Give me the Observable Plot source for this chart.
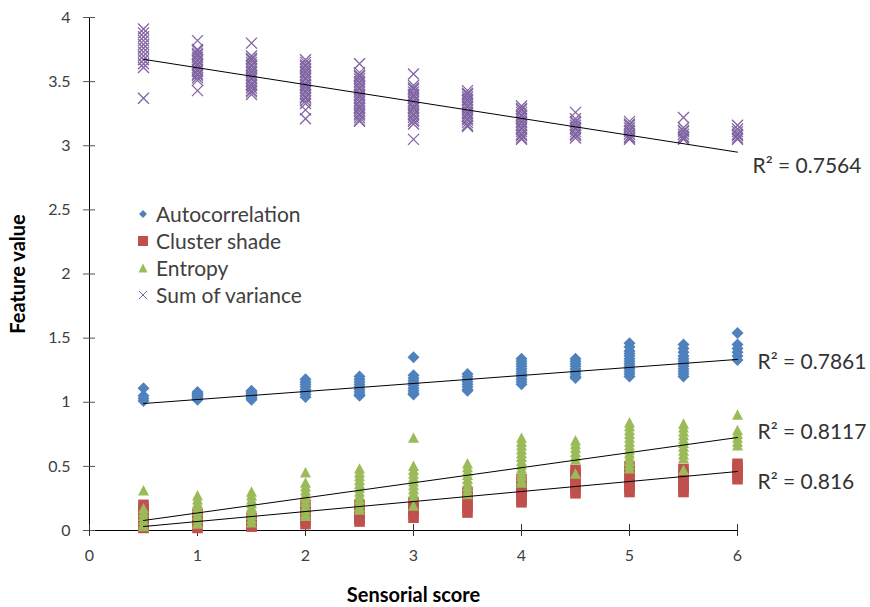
<!DOCTYPE html>
<html>
<head>
<meta charset="utf-8">
<script src="https://cdn.jsdelivr.net/npm/d3@7"></script>
<script src="https://cdn.jsdelivr.net/npm/@observablehq/plot@0.6"></script>
<style>
  body { margin: 0; background: #fff; }
  #wrap { position: relative; width: 870px; height: 607px; font-family: Lato, "Open Sans", sans-serif; }
  #legend { position: absolute; left: 136px; top: 200px; font-size: 21px; color: #404040; line-height: 27px; }
  #legend .row { display: flex; align-items: center; height: 27px; white-space: nowrap; }
  #legend svg { width: 14px; height: 14px; margin-right: 6px; }
</style>
</head>
<body>
<div id="wrap">
  <div id="chart"></div>
  <div id="legend"></div>
</div>
<script>
// ---- data ----
const xLevels = [0.5, 1, 1.5, 2, 2.5, 3, 3.5, 4, 4.5, 5, 5.5, 6];

const autocorrelation = [
  [1.11, 1.05, 1.03, 1.01],
  [1.08, 1.07, 1.06, 1.05, 1.04, 1.03, 1.02],
  [1.09, 1.08, 1.07, 1.06, 1.05, 1.04, 1.03, 1.02],
  [1.18, 1.16, 1.14, 1.12, 1.10, 1.08, 1.06, 1.04],
  [1.20, 1.18, 1.16, 1.14, 1.12, 1.10, 1.08, 1.06, 1.05],
  [1.35, 1.21, 1.19, 1.17, 1.15, 1.13, 1.11, 1.09, 1.07, 1.06],
  [1.22, 1.20, 1.18, 1.16, 1.14, 1.12, 1.10, 1.09],
  [1.34, 1.32, 1.30, 1.28, 1.26, 1.24, 1.22, 1.20, 1.18, 1.16, 1.14],
  [1.34, 1.32, 1.30, 1.28, 1.26, 1.24, 1.22, 1.20, 1.19],
  [1.46, 1.43, 1.40, 1.38, 1.36, 1.34, 1.32, 1.30, 1.28, 1.26, 1.24, 1.22, 1.20],
  [1.45, 1.42, 1.39, 1.36, 1.34, 1.32, 1.30, 1.28, 1.26, 1.24, 1.22, 1.20],
  [1.54, 1.45, 1.42, 1.39, 1.36, 1.33]
];

const clusterShade = [
  [0.20, 0.17, 0.14, 0.11, 0.08, 0.05, 0.02],
  [0.13, 0.10, 0.07, 0.04, 0.02],
  [0.10, 0.07, 0.04, 0.03],
  [0.20, 0.15, 0.11, 0.08, 0.05],
  [0.20, 0.15, 0.11, 0.09, 0.07],
  [0.22, 0.19, 0.16, 0.13, 0.10],
  [0.30, 0.26, 0.22, 0.18, 0.14],
  [0.40, 0.36, 0.33, 0.30, 0.27, 0.24, 0.22],
  [0.47, 0.44, 0.41, 0.38, 0.35, 0.32, 0.29],
  [0.50, 0.46, 0.42, 0.39, 0.36, 0.33, 0.30],
  [0.48, 0.45, 0.42, 0.39, 0.36, 0.33, 0.30],
  [0.52, 0.49, 0.46, 0.43, 0.40]
];

const entropy = [
  [0.31, 0.17, 0.14, 0.11, 0.08, 0.05, 0.03],
  [0.27, 0.24, 0.21, 0.18, 0.15, 0.12, 0.09, 0.06, 0.05],
  [0.30, 0.27, 0.24, 0.21, 0.18, 0.15, 0.12, 0.09, 0.06],
  [0.45, 0.37, 0.34, 0.31, 0.28, 0.25, 0.22, 0.19, 0.16, 0.13, 0.11],
  [0.48, 0.45, 0.42, 0.39, 0.36, 0.33, 0.30, 0.27, 0.24, 0.21, 0.18, 0.16],
  [0.72, 0.50, 0.47, 0.44, 0.41, 0.38, 0.35, 0.32, 0.29, 0.26, 0.19],
  [0.52, 0.49, 0.46, 0.43, 0.40, 0.37, 0.34, 0.31, 0.28],
  [0.72, 0.69, 0.66, 0.63, 0.60, 0.57, 0.54, 0.51, 0.48, 0.45, 0.42, 0.39, 0.37],
  [0.70, 0.67, 0.64, 0.61, 0.58, 0.55, 0.44],
  [0.84, 0.81, 0.78, 0.75, 0.72, 0.69, 0.66, 0.63, 0.60, 0.57, 0.54, 0.51, 0.48],
  [0.83, 0.80, 0.77, 0.74, 0.71, 0.68, 0.65, 0.62, 0.59, 0.56, 0.47],
  [0.90, 0.78, 0.75, 0.72, 0.69, 0.66]
];

const sumOfVariance = [
  [3.91, 3.88, 3.85, 3.82, 3.79, 3.76, 3.73, 3.70, 3.67, 3.64, 3.61, 3.37],
  [3.82, 3.75, 3.74, 3.72, 3.71, 3.69, 3.67, 3.66, 3.64, 3.63, 3.61, 3.59, 3.58, 3.56, 3.55, 3.53, 3.51, 3.43],
  [3.80, 3.70, 3.68, 3.67, 3.65, 3.63, 3.62, 3.60, 3.58, 3.57, 3.55, 3.53, 3.52, 3.50, 3.48, 3.47, 3.45, 3.43, 3.42, 3.40],
  [3.67, 3.65, 3.63, 3.62, 3.60, 3.58, 3.57, 3.55, 3.53, 3.52, 3.50, 3.48, 3.47, 3.45, 3.43, 3.42, 3.40, 3.38, 3.37, 3.35, 3.33, 3.28, 3.21],
  [3.64, 3.57, 3.55, 3.54, 3.52, 3.50, 3.49, 3.47, 3.45, 3.44, 3.42, 3.40, 3.39, 3.37, 3.35, 3.34, 3.32, 3.30, 3.29, 3.27, 3.25, 3.24, 3.22, 3.20, 3.19],
  [3.56, 3.47, 3.45, 3.44, 3.42, 3.40, 3.39, 3.37, 3.35, 3.34, 3.32, 3.30, 3.29, 3.27, 3.25, 3.24, 3.22, 3.20, 3.19, 3.17, 3.05],
  [3.43, 3.41, 3.40, 3.38, 3.36, 3.35, 3.33, 3.31, 3.30, 3.28, 3.26, 3.25, 3.23, 3.21, 3.20, 3.18, 3.16, 3.15],
  [3.31, 3.29, 3.28, 3.26, 3.24, 3.23, 3.21, 3.19, 3.18, 3.16, 3.14, 3.13, 3.11, 3.09, 3.08, 3.06, 3.05],
  [3.26, 3.21, 3.19, 3.18, 3.16, 3.14, 3.13, 3.11, 3.09, 3.08, 3.06],
  [3.19, 3.17, 3.16, 3.14, 3.12, 3.11, 3.09, 3.07, 3.06, 3.05],
  [3.22, 3.14, 3.12, 3.11, 3.09, 3.07, 3.06, 3.05],
  [3.16, 3.13, 3.11, 3.09, 3.08, 3.06, 3.05]
];

// linear trend lines (end points)
const trendX = [0.5, 6];
const trendAutocorrelation = [0.99, 1.334];
const trendClusterShade = [0.031, 0.46];
const trendEntropy = [0.078, 0.725];
const trendSumOfVariance = [3.674, 2.95];

const r2Labels = ["R\u00B2 = 0.7564", "R\u00B2 = 0.7861", "R\u00B2 = 0.8117", "R\u00B2 = 0.816"];
const r2LabelY = [2.84, 1.31, 0.765, 0.374];

const seriesNames = ["Autocorrelation", "Cluster shade", "Entropy", "Sum of variance"];
const seriesColors = ["#4F81BD", "#C0504D", "#9BBB59", "#8064A2"];

const xTicks = [0, 1, 2, 3, 4, 5, 6];
const yTicks = [0, 0.5, 1, 1.5, 2, 2.5, 3, 3.5, 4];

// ---- helpers ----
const flat = vals => xLevels.flatMap((x, i) => vals[i].map(y => ({x, y})));
const trend = ys => trendX.map((x, i) => ({x, y: ys[i]}));
const fmt = d => String(d);

const diamondSym = {draw(c, s) { const r = Math.sqrt(s / Math.PI); c.moveTo(0, -r); c.lineTo(r, 0); c.lineTo(0, r); c.lineTo(-r, 0); c.closePath(); }};
const squareSym = {draw(c, s) { const r = Math.sqrt(s / Math.PI); c.rect(-r, -r, 2 * r, 2 * r); }};
const triangleSym = {draw(c, s) { const r = Math.sqrt(s / Math.PI); c.moveTo(0, -r * 1.05); c.lineTo(r, r * 0.85); c.lineTo(-r, r * 0.85); c.closePath(); }};
const timesSym = {draw(c, s) { const r = Math.sqrt(s / Math.PI); c.moveTo(-r, -r); c.lineTo(r, r); c.moveTo(-r, r); c.lineTo(r, -r); }};

const trendStyle = {x: "x", y: "y", stroke: "#000", strokeWidth: 1};
const r2Dx = [15, 20, 20, 20];

const chart = Plot.plot({
  width: 870,
  height: 607,
  marginLeft: 89,
  marginRight: 133,
  marginTop: 17,
  marginBottom: 77,
  x: {domain: [0, 6]},
  y: {domain: [0, 4]},
  style: {fontFamily: "Lato, 'Open Sans', sans-serif", fontSize: "16px", color: "#404040", background: "#fff"},
  marks: [
    // axis lines and crossing ticks
    Plot.ruleX([0], {stroke: "#000"}),
    Plot.ruleY([0], {stroke: "#000"}),
    Plot.axisY({ticks: yTicks, tickSize: 12, dx: 6, tickFormat: () => "", label: null, stroke: "#555"}),
    Plot.axisY({ticks: yTicks, tickSize: 0, tickPadding: 19, tickFormat: fmt, label: null, fill: "#404040"}),
    Plot.axisX({ticks: xTicks, tickSize: 12, dy: -6, tickFormat: () => "", label: null, stroke: "#333"}),
    Plot.axisX({ticks: xTicks, tickSize: 0, tickPadding: 19, tickFormat: fmt, label: null, fill: "#404040"}),
    // data
    Plot.dot(flat(autocorrelation), {x: "x", y: "y", symbol: diamondSym, r: 6, fill: seriesColors[0], stroke: "none"}),
    Plot.dot(flat(clusterShade), {x: "x", y: "y", symbol: squareSym, r: 5.3, fill: seriesColors[1], stroke: "none"}),
    Plot.dot(flat(entropy), {x: "x", y: "y", symbol: triangleSym, r: 5.5, fill: seriesColors[2], stroke: "none"}),
    Plot.dot(flat(sumOfVariance), {x: "x", y: "y", symbol: timesSym, r: 5.5, fill: "none", stroke: seriesColors[3], strokeWidth: 1.3}),
    // trend lines
    Plot.line(trend(trendAutocorrelation), trendStyle),
    Plot.line(trend(trendClusterShade), trendStyle),
    Plot.line(trend(trendEntropy), trendStyle),
    Plot.line(trend(trendSumOfVariance), trendStyle),
    // R² labels
    ...r2Labels.map((t, i) => Plot.text([t], {x: () => 6, y: () => r2LabelY[i], text: d => d, dx: r2Dx[i], textAnchor: "start", fontSize: 21, fill: "#333"})),
    // axis titles
    Plot.text(["Feature value"], {text: d => d, frameAnchor: "left", dx: -71, rotate: -90, textAnchor: "middle", lineAnchor: "middle", fontWeight: "bold", fontSize: 20, fill: "#000"}),
    Plot.text(["Sensorial score"], {text: d => d, frameAnchor: "bottom", dy: 65, textAnchor: "middle", lineAnchor: "middle", fontWeight: "bold", fontSize: 20, fill: "#000"})
  ]
});
document.getElementById("chart").appendChild(chart);

// legend
const legendSyms = [
  '<path d="M7 3 L11 7 L7 11 L3 7 Z" fill="' + seriesColors[0] + '"/>',
  '<rect x="2" y="2" width="10" height="10" fill="' + seriesColors[1] + '"/>',
  '<path d="M7 2.5 L11.5 11.5 L2.5 11.5 Z" fill="' + seriesColors[2] + '"/>',
  '<path d="M3 3 L11 11 M3 11 L11 3" stroke="' + seriesColors[3] + '" stroke-width="1" fill="none"/>'
];
const legend = document.getElementById("legend");
seriesNames.forEach((name, i) => {
  const row = document.createElement("div");
  row.className = "row";
  row.innerHTML = '<svg viewBox="0 0 14 14">' + legendSyms[i] + '</svg><span>' + name + '</span>';
  legend.appendChild(row);
});
</script>
</body>
</html>
